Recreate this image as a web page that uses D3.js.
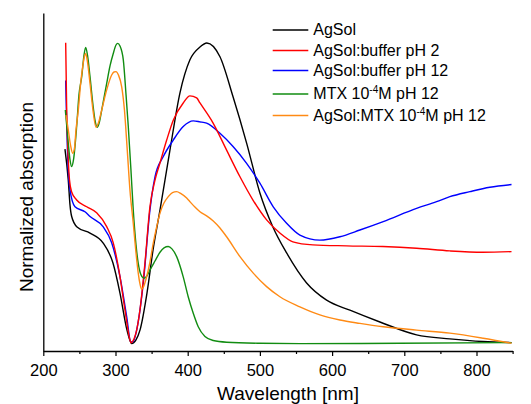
<!DOCTYPE html>
<html>
<head>
<meta charset="utf-8">
<script src="https://cdn.jsdelivr.net/npm/d3@7"></script>
<style>
  html, body { margin: 0; padding: 0; background: #fff; }
  svg { display: block; font-family: "Liberation Sans", Arial, sans-serif; }
</style>
</head>
<body>
<svg id="chart" width="531" height="404"></svg>
<script>
// ---- data (wavelength nm, normalized absorption) ----
const agSol = [[230,0.596],[234.6,0.504],[237,0.430],[239.3,0.396],[246.7,0.365],[264.7,0.347],[282.7,0.318],[296.5,0.258],[306.2,0.169],[315.9,0.059],[322.4,0.019],[328.4,0.030],[333.9,0.059],[343.6,0.169],[352,0.297],[361.6,0.415],[375.4,0.593],[389.3,0.763],[403.1,0.861],[417,0.899],[426.5,0.911],[444.7,0.870],[462.7,0.752],[481.6,0.614],[500,0.466],[518,0.365],[537,0.288],[564.7,0.199],[592.4,0.148],[624.7,0.118],[666.2,0.083],[717,0.045],[763,0.033],[808.8,0.025],[848.5,0.022]];

const bufferPH2 = [[231,0.912],[232.4,0.712],[234.6,0.564],[236.3,0.504],[239.3,0.469],[246.2,0.445],[260.1,0.425],[273.9,0.407],[287.8,0.366],[296.9,0.318],[306.2,0.218],[313.1,0.119],[320,0.030],[321.4,0.021],[324.2,0.027],[329.3,0.059],[333.9,0.119],[340.8,0.258],[347.7,0.425],[354.7,0.504],[361.6,0.555],[370.9,0.623],[380,0.682],[393.8,0.733],[403.1,0.754],[412.4,0.748],[417,0.733],[435,0.674],[453.9,0.593],[472.4,0.514],[490.4,0.445],[509.3,0.386],[527.7,0.347],[545.7,0.321],[573.4,0.312],[620.1,0.309],[670.3,0.307],[717,0.302],[763.1,0.294],[808.8,0.290],[848.5,0.292]];

const bufferPH12 = [[231,0.80],[234.2,0.549],[237,0.475],[243.9,0.425],[257.7,0.410],[264.7,0.396],[282.7,0.366],[294.7,0.318],[306.2,0.218],[315.5,0.099],[321,0.025],[324.2,0.024],[328.4,0.050],[338.5,0.199],[347.7,0.415],[354.7,0.514],[366.2,0.574],[380,0.623],[393.8,0.663],[407.7,0.680],[417,0.677],[426.2,0.673],[444.7,0.643],[463.1,0.603],[481.6,0.554],[500,0.495],[518.5,0.425],[537,0.376],[555.4,0.341],[583.1,0.326],[610.8,0.336],[638.5,0.356],[670.8,0.381],[717,0.420],[744.7,0.440],[763.1,0.455],[790.8,0.470],[818.5,0.483],[848.5,0.491]];

const mtxPH12 = [[230.5,0.712],[234.2,0.623],[237,0.564],[239.3,0.544],[241.8,0.564],[246.2,0.663],[249.4,0.757],[253.2,0.811],[256.4,0.875],[258.7,0.898],[261.2,0.875],[264.7,0.811],[268.8,0.727],[271.6,0.682],[274.8,0.661],[277.8,0.677],[280.9,0.712],[287.8,0.791],[292.4,0.843],[296.9,0.880],[300.7,0.905],[303,0.910],[306.2,0.902],[310.8,0.861],[314.6,0.757],[317.7,0.663],[321.4,0.534],[324.6,0.415],[328.4,0.312],[331.5,0.257],[335.3,0.223],[339.4,0.213],[343.6,0.220],[347.7,0.237],[354.7,0.264],[361.6,0.290],[367.2,0.303],[373.1,0.307],[378.2,0.300],[384.7,0.277],[393.8,0.217],[400.7,0.158],[407.7,0.109],[414.6,0.069],[423.9,0.040],[435.4,0.028],[454,0.023],[500,0.020],[555.4,0.019],[694,0.020],[848.5,0.022]];

const agSolMTX = [[231.4,0.697],[234.6,0.653],[237.7,0.608],[240.7,0.584],[243.2,0.599],[245.3,0.653],[248.5,0.712],[251.5,0.786],[254.6,0.841],[257.1,0.872],[258.7,0.880],[261.2,0.855],[264.7,0.791],[268.8,0.712],[273,0.661],[276.4,0.674],[280.9,0.712],[287.8,0.772],[294.7,0.816],[297.9,0.825],[300.7,0.826],[304.1,0.816],[308.6,0.781],[312.4,0.712],[316.3,0.593],[320,0.475],[324.6,0.376],[328.4,0.288],[331.5,0.228],[333.9,0.196],[336.2,0.180],[338.7,0.187],[343.2,0.218],[347.7,0.261],[352.3,0.317],[356.7,0.362],[361.6,0.406],[367.1,0.436],[373.1,0.455],[378.9,0.467],[384.7,0.470],[390.7,0.464],[398.6,0.451],[403.1,0.440],[410,0.424],[417,0.410],[426.2,0.398],[435.4,0.383],[444.7,0.362],[453.9,0.336],[472.4,0.277],[490.8,0.228],[509.3,0.188],[527.7,0.158],[555.4,0.128],[583.1,0.104],[610.8,0.089],[638.5,0.079],[670.8,0.069],[717,0.059],[763.1,0.050],[809.2,0.035],[848.5,0.020]];

const seriesNames = ["AgSol", "AgSol:buffer pH 2", "AgSol:buffer pH 12", "MTX 10-4M pH 12", "AgSol:MTX 10-4M pH 12"];
const seriesColors = ["#000000", "#ff0000", "#0000ff", "#118c11", "#ff8a14"];
const majorTicks = [200, 300, 400, 500, 600, 700, 800];
const minorTicks = [250, 350, 450, 550, 650, 750, 850];
const xTitle = "Wavelength [nm]";
const yTitle = "Normalized absorption";

// ---- drawing ----
const svg = d3.select("#chart");
const x = d3.scaleLinear().domain([200, 850]).range([43.3, 512.6]);
const y = d3.scaleLinear().domain([-0.003, 1]).range([351, 13]);

const allSeries = [agSol, bufferPH2, bufferPH12, mtxPH12, agSolMTX];
const drawOrder = [0, 2, 1, 3, 4];

const line = d3.line().x(d => x(d[0])).y(d => y(d[1])).curve(d3.curveMonotoneX);

svg.append("g").selectAll("path")
  .data(drawOrder)
  .join("path")
  .attr("d", i => line(allSeries[i]))
  .attr("fill", "none")
  .attr("stroke", i => seriesColors[i])
  .attr("stroke-width", 1.4)
  .attr("stroke-linejoin", "round");

// axes
const xAxis = svg.append("g").attr("transform", `translate(0,${y.range()[0]})`)
  .call(d3.axisBottom(x).tickValues(majorTicks).tickSize(5).tickSizeOuter(0).tickPadding(8).tickFormat(d3.format("d")));
xAxis.select(".domain").attr("stroke", "#000").attr("stroke-width", 1.3);
xAxis.selectAll(".tick line").attr("stroke", "#000").attr("stroke-width", 1.2);
xAxis.selectAll(".tick text").attr("font-size", "16.5px").attr("font-family", "Liberation Sans, Arial, sans-serif").attr("fill", "#000");

const xMinor = svg.append("g").attr("transform", `translate(0,${y.range()[0]})`)
  .call(d3.axisBottom(x).tickValues(minorTicks).tickSize(3).tickSizeOuter(0).tickFormat(""));
xMinor.select(".domain").remove();
xMinor.selectAll(".tick line").attr("stroke", "#000").attr("stroke-width", 1.2);

const yAxis = svg.append("g").attr("transform", `translate(${x.range()[0]},0)`)
  .call(d3.axisLeft(y).tickValues([]).tickSizeOuter(0));
yAxis.select(".domain").attr("stroke", "#000").attr("stroke-width", 1.3);

// titles
svg.append("text")
  .attr("x", 288).attr("y", 399.5)
  .attr("text-anchor", "middle")
  .attr("font-size", "19px")
  .text(xTitle);

svg.append("text")
  .attr("transform", "translate(33,197) rotate(-90)")
  .attr("text-anchor", "middle")
  .attr("font-size", "19px")
  .text(yTitle);

// legend
const legendY = [30, 50.5, 70.5, 94, 115.5];
const leg = svg.append("g");
seriesNames.forEach((name, i) => {
  const g = leg.append("g").attr("transform", `translate(0,${legendY[i]})`);
  g.append("line").attr("x1", 272.7).attr("x2", 308.3).attr("y1", 0).attr("y2", 0)
    .attr("stroke", seriesColors[i]).attr("stroke-width", 1.4);
  const t = g.append("text").attr("x", 313.3).attr("y", 5.3).attr("font-size", "16px");
  const m = name.match(/^(.*10)(-4)(M.*)$/);
  if (m) {
    t.append("tspan").text(m[1]);
    t.append("tspan").attr("dy", -6).attr("font-size", "10px").text(m[2]);
    t.append("tspan").attr("dy", 6).text(m[3]);
  } else {
    t.text(name);
  }
});
</script>
</body>
</html>
